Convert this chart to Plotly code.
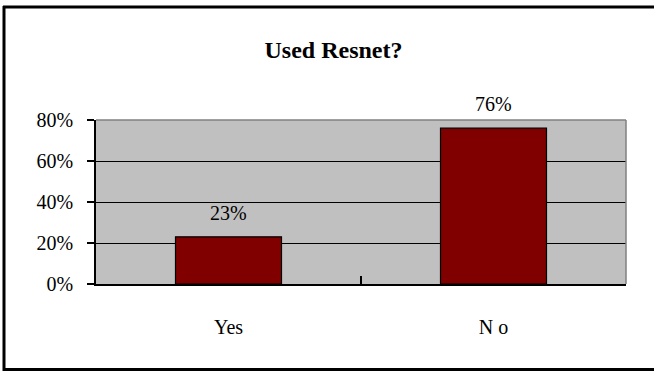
import plotly.graph_objects as go

# Survey result: share of respondents who used Resnet
categories = ["Yes", "No"]
shares = [0.23, 0.76]
tick_labels = ["Yes", "N o"]
y_ticks = [0, 0.2, 0.4, 0.6, 0.8]
y_tick_labels = ["0%", "20%", "40%", "60%", "80%"]

W, H = 654, 371
L, R, T, B = 96, 28, 120, 87
plot_w = W - L - R
plot_h = H - T - B


def px_x(px):
    return (px - L) / plot_w


def px_y(py):
    return (H - B - py) / plot_h


serif = "Liberation Serif, Times New Roman, serif"

fig = go.Figure(
    go.Bar(
        x=categories,
        y=shares,
        width=0.4,
        marker=dict(color="#800000", line=dict(color="#000000", width=1.2)),
        hoverinfo="skip",
    )
)

# value labels above the bars
for c, v in zip(categories, shares):
    fig.add_annotation(
        x=c, y=v, text=f"{round(v * 100)}%", showarrow=False,
        yanchor="bottom", yshift=11,
        font=dict(family=serif, size=20, color="#000000"),
    )

shapes = [
    # plot-area border (top and right edges in grey)
    dict(type="line", xref="paper", yref="paper", x0=0, x1=1, y0=1, y1=1,
         line=dict(color="#808080", width=1.5), layer="above"),
    dict(type="line", xref="paper", yref="paper", x0=1, x1=1, y0=0, y1=1,
         line=dict(color="#808080", width=1.5), layer="above"),
    # outer chart frame
    dict(type="line", xref="paper", yref="paper", x0=px_x(4), x1=px_x(4),
         y0=px_y(6), y1=px_y(372), line=dict(color="#000000", width=3)),
    dict(type="line", xref="paper", yref="paper", x0=px_x(3), x1=px_x(670),
         y0=px_y(7), y1=px_y(7), line=dict(color="#000000", width=3)),
    dict(type="line", xref="paper", yref="paper", x0=px_x(3), x1=px_x(670),
         y0=px_y(369.5), y1=px_y(369.5), line=dict(color="#000000", width=3)),
]

fig.update_layout(
    width=W, height=H,
    margin=dict(l=L, r=R, t=T, b=B, pad=0),
    paper_bgcolor="#FFFFFF",
    plot_bgcolor="#C0C0C0",
    showlegend=False,
    bargap=0.6,
    shapes=shapes,
    title=dict(
        text="<b>Used Resnet?</b>",
        font=dict(family=serif, size=24, color="#000000"),
        x=333.5 / W, xanchor="center", xref="container",
        y=1 - 50 / H, yanchor="middle", yref="container",
    ),
    xaxis=dict(
        showline=True, linecolor="#000000", linewidth=1.5,
        ticks="inside", tickson="boundaries", ticklen=8, tickwidth=1.5,
        tickcolor="#000000",
        tickvals=categories, ticktext=tick_labels,
        ticklabelstandoff=24,
        tickfont=dict(family=serif, size=20, color="#000000"),
        showgrid=False, zeroline=False, fixedrange=True,
    ),
    yaxis=dict(
        range=[0, 0.8],
        tickvals=y_ticks, ticktext=y_tick_labels,
        showline=True, linecolor="#000000", linewidth=1.5,
        ticks="outside", ticklen=7, tickwidth=1.5, tickcolor="#000000",
        ticklabelstandoff=10,
        tickfont=dict(family=serif, size=20, color="#000000"),
        showgrid=True, gridcolor="#000000", gridwidth=1,
        zeroline=False, fixedrange=True,
    ),
)

fig.write_html("out.html", config={"displayModeBar": False})
